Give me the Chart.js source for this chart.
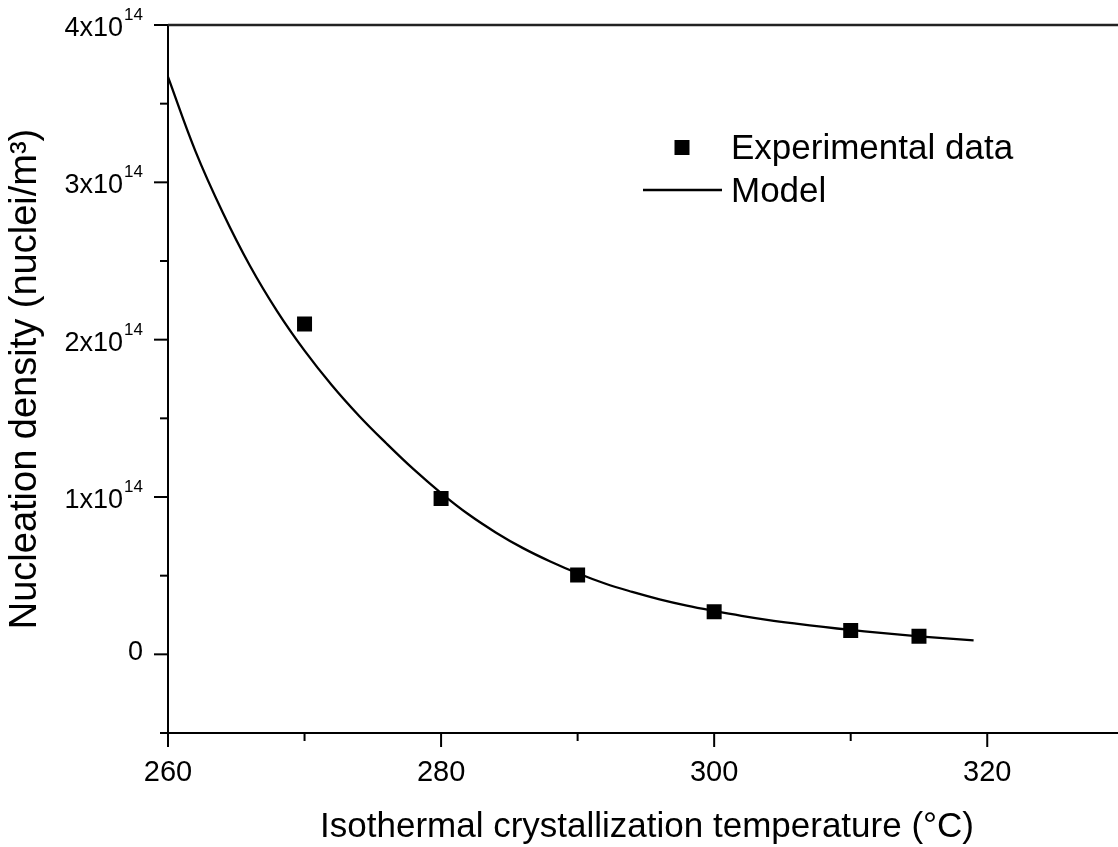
<!DOCTYPE html>
<html>
<head>
<meta charset="utf-8">
<script src="https://cdn.jsdelivr.net/npm/chart.js@4.4.1/dist/chart.umd.min.js"></script>
<style>
  html, body { margin: 0; padding: 0; background: #fff; overflow: hidden; }
  #wrap { width: 1118px; height: 847px; }
  canvas { display: block; }
</style>
</head>
<body>
<div id="wrap"><canvas id="nucChart" width="1118" height="847"></canvas></div>
<script>
// experimental points
const expT = [270, 280, 290, 300, 310, 315];
const expN = [2.10e14, 0.99e14, 0.505e14, 0.27e14, 0.152e14, 0.115e14];

// model curve
const modelT = [260, 262, 264, 266, 268, 270, 272, 274, 276, 278, 280, 282, 284, 286, 288, 290,
                292, 294, 296, 298, 300, 302, 304, 306, 308, 310, 312, 314, 316, 318, 319];
const modelN = [3.67e14, 3.20e14, 2.81e14, 2.47e14, 2.18e14, 1.93e14, 1.71e14, 1.515e14, 1.34e14, 1.175e14,
                1.025e14, 0.89e14, 0.775e14, 0.675e14, 0.59e14, 0.515e14, 0.45e14, 0.397e14, 0.35e14, 0.31e14,
                0.276e14, 0.245e14, 0.218e14, 0.195e14, 0.174e14, 0.155e14, 0.138e14, 0.122e14, 0.108e14, 0.095e14, 0.089e14];

// axis ticks
const xMajor = [260, 280, 300, 320];
const xMinor = [270, 290, 310];
const yMajor = [0, 1e14, 2e14, 3e14, 4e14];
const yMinor = [-0.5e14, 0.5e14, 1.5e14, 2.5e14, 3.5e14];
const yLabels = ['0', '1x10|14', '2x10|14', '3x10|14', '4x10|14'];
const xTitle = 'Isothermal crystallization temperature (°C)';
const yTitle = 'Nucleation density (nuclei/m³)';

const FONT = '"Liberation Sans", Arial, sans-serif';

// ticks, tick labels, x title, frame lines and legend
const decor = {
    id: 'decor',
    afterDraw(chart) {
        const ctx = chart.ctx;
        const xs = chart.scales.x, ys = chart.scales.y;
        const area = chart.chartArea;
        ctx.save();
        ctx.fillStyle = '#000';

        // top line (runs to the canvas edge)
        ctx.strokeStyle = '#222';
        ctx.lineWidth = 2.5;
        ctx.beginPath();
        ctx.moveTo(area.left, area.top);
        ctx.lineTo(chart.width, area.top);
        ctx.stroke();

        // bottom axis continued to the canvas edge
        ctx.strokeStyle = '#000';
        ctx.lineWidth = 2;
        ctx.beginPath();
        ctx.moveTo(area.right - 1, area.bottom);
        ctx.lineTo(chart.width, area.bottom);
        ctx.stroke();

        // x ticks
        xMajor.forEach(v => {
            const px = xs.getPixelForValue(v);
            ctx.beginPath(); ctx.moveTo(px, area.bottom); ctx.lineTo(px, area.bottom + 14); ctx.stroke();
        });
        xMinor.forEach(v => {
            const px = xs.getPixelForValue(v);
            ctx.beginPath(); ctx.moveTo(px, area.bottom); ctx.lineTo(px, area.bottom + 8); ctx.stroke();
        });
        ctx.font = '29px ' + FONT;
        ctx.textAlign = 'center';
        ctx.textBaseline = 'alphabetic';
        xMajor.forEach(v => {
            ctx.fillText(String(v), xs.getPixelForValue(v), area.bottom + 48);
        });

        // x title, centred on the visible axis
        ctx.font = '35px ' + FONT;
        ctx.fillText(xTitle, (area.left + chart.width) / 2 + 4, area.bottom + 104);

        // y ticks
        yMajor.forEach(v => {
            const py = ys.getPixelForValue(v);
            ctx.beginPath(); ctx.moveTo(area.left - 14, py); ctx.lineTo(area.left, py); ctx.stroke();
        });
        yMinor.forEach(v => {
            const py = ys.getPixelForValue(v);
            ctx.beginPath(); ctx.moveTo(area.left - 8, py); ctx.lineTo(area.left, py); ctx.stroke();
        });
        const rightEdge = area.left - 25;
        yMajor.forEach((v, i) => {
            const py = ys.getPixelForValue(v);
            const parts = yLabels[i].split('|');
            ctx.textAlign = 'right';
            if (parts.length === 1) {
                ctx.font = '27px ' + FONT;
                ctx.fillText(parts[0], rightEdge, py + 6);
            } else {
                ctx.font = '17px ' + FONT;
                const supW = ctx.measureText(parts[1]).width;
                ctx.fillText(parts[1], rightEdge, py - 5);
                ctx.font = '27px ' + FONT;
                ctx.fillText(parts[0], rightEdge - supW - 1, py + 11);
            }
        });

        // legend
        const lx = 682, ly1 = 147.5, ly2 = 190;
        ctx.fillRect(lx - 7.5, ly1 - 7.5, 15, 15);
        ctx.lineWidth = 2.3;
        ctx.beginPath(); ctx.moveTo(643, ly2); ctx.lineTo(722, ly2); ctx.stroke();
        ctx.font = '35px ' + FONT;
        ctx.textAlign = 'left';
        ctx.fillText('Experimental data', 731, 159);
        ctx.fillText('Model', 731, 202);
        ctx.restore();
    }
};

new Chart(document.getElementById('nucChart'), {
    type: 'scatter',
    data: {
        datasets: [{
            label: 'Model',
            data: modelT.map((t, i) => ({ x: t, y: modelN[i] })),
            showLine: true,
            borderColor: '#000',
            borderWidth: 2.3,
            pointRadius: 0,
            tension: 0.4,
            order: 2
        }, {
            label: 'Experimental data',
            data: expT.map((t, i) => ({ x: t, y: expN[i] })),
            pointStyle: 'rect',
            pointRadius: 10.6,
            backgroundColor: '#000',
            borderColor: '#000',
            borderWidth: 0,
            order: 1
        }]
    },
    options: {
        responsive: false,
        animation: false,
        devicePixelRatio: 1,
        layout: { padding: { top: 25, right: 0, left: 0, bottom: 0 } },
        plugins: { legend: { display: false }, tooltip: { enabled: false } },
        scales: {
            x: {
                type: 'linear',
                min: 260,
                max: 328.8,
                ticks: { display: false },
                grid: { display: false },
                border: { display: true, color: '#000', width: 2 },
                afterFit: s => { s.height = 114; }
            },
            y: {
                type: 'linear',
                min: -0.5e14,
                max: 4e14,
                ticks: { display: false },
                grid: { display: false },
                border: { display: true, color: '#000', width: 2 },
                title: {
                    display: true,
                    text: yTitle,
                    color: '#000',
                    font: { family: FONT, size: 38 },
                    padding: { top: 3, bottom: 0 }
                },
                afterFit: s => { s.width = 168; }
            }
        }
    },
    plugins: [decor]
});
</script>
</body>
</html>
